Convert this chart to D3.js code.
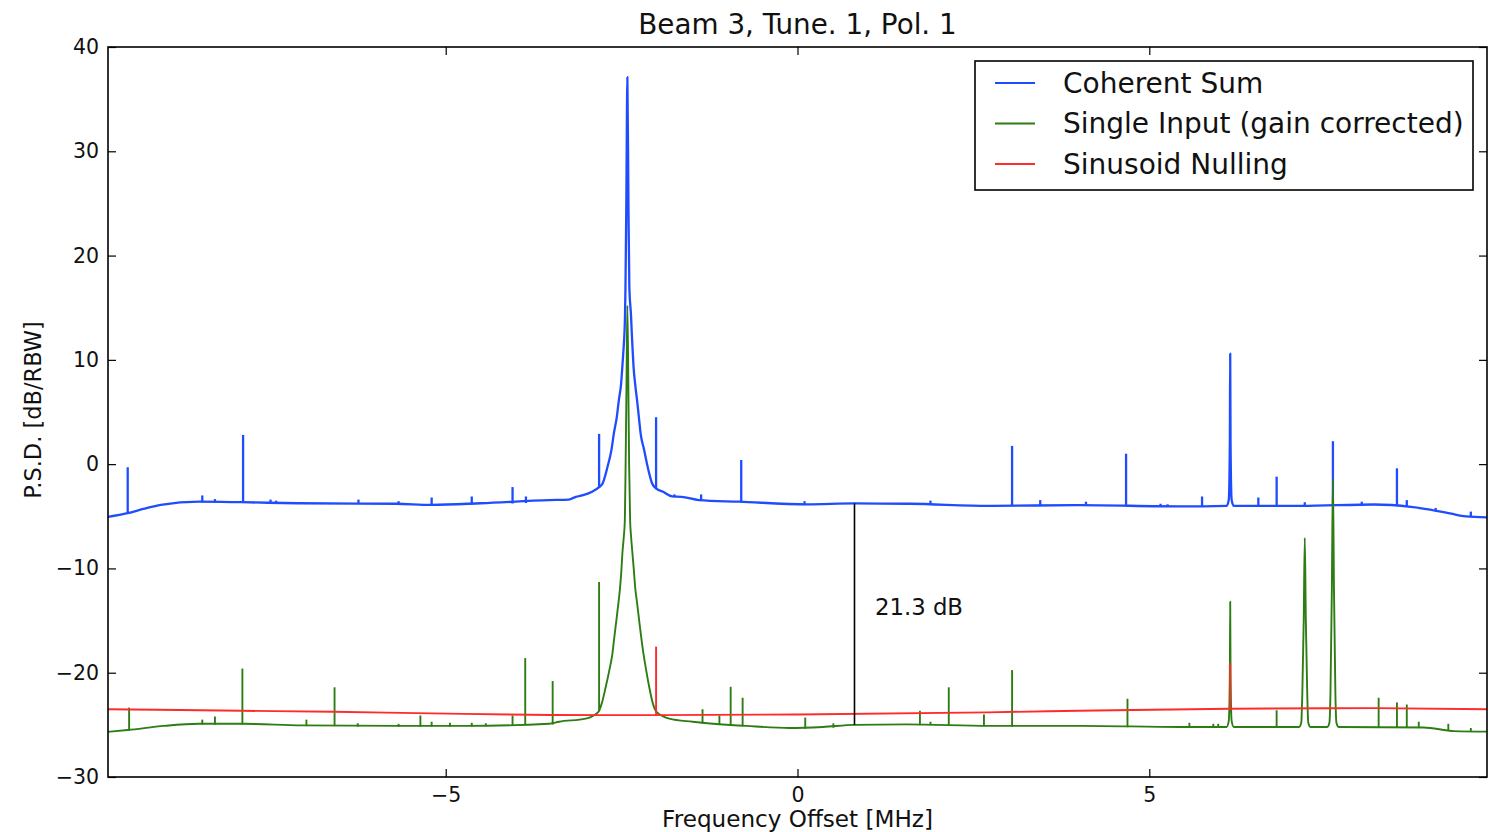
<!DOCTYPE html>
<meta charset="utf-8">
<style>
body { margin: 0; background: #fff; }
text { font-family: "DejaVu Sans", sans-serif; fill: #111; }
.trace { fill: none; stroke-linejoin: round; }
.frame { fill: none; stroke: #000; stroke-width: 1.6; }
.axis path.domain { display: none; }
.axis line { stroke: #000; stroke-width: 1.2; }
</style>
<body>
<svg class="chart js-chart"></svg>
<script src="https://d3js.org/d3.v7.min.js"></script>
<script>
"use strict";

var xTicks = [-5, 0, 5];
var yTicks = [-30, -20, -10, 0, 10, 20, 30, 40];

var seriesNames = ["Coherent Sum", "Single Input (gain corrected)", "Sinusoid Nulling"];
var seriesColors = ["#1f4cff", "#2e7d14", "#ff2b2b"];

// noise floor knots [MHz, dB]
var coherentFloor = [[-9.8, -5.05], [-9.52, -4.7], [-9.3, -4.3], [-9.05, -3.9], [-8.5, -3.6],
  [-7.9, -3.65], [-7.1, -3.75], [-5.7, -3.8], [-5.2, -3.9], [-4.5, -3.75], [-3.53, -3.45],
  [-1.4, -3.45], [-0.83, -3.6], [0.13, -3.85], [0.81, -3.77], [1.6, -3.8], [2.73, -4.0],
  [4.0, -3.93], [5.44, -4.05], [7.15, -4.0], [8.2, -3.87],
  [8.72, -4.1], [9.1, -4.5], [9.29, -4.75], [9.5, -5.0], [9.81, -5.1]];
// broad peaks: strong carrier near -2.4 MHz and the tone at 6.15 MHz [MHz, dB]
var coherentCarrier = [[-3.25, -3.4], [-3.15, -3.13], [-3.06, -3.0], [-2.92, -2.65], [-2.82, -2.2],
  [-2.77, -1.85], [-2.70, -0.25], [-2.645, 1.34], [-2.61, 2.95], [-2.568, 4.53], [-2.54, 6.1],
  [-2.507, 7.73], [-2.49, 9.3], [-2.474, 10.9], [-2.46, 12.5], [-2.452, 14.1], [-2.445, 17],
  [-2.433, 25], [-2.418, 37.1], [-2.403, 25], [-2.39, 17], [-2.365, 14.1], [-2.355, 12.5],
  [-2.343, 10.9], [-2.33, 9.3], [-2.308, 7.73], [-2.28, 6.1], [-2.255, 4.53], [-2.23, 2.95],
  [-2.179, 1.34], [-2.13, -0.25], [-2.066, -1.85], [-2.01, -2.33], [-1.91, -2.65],
  [-1.78, -3.1], [-1.65, -3.13]];
var coherentWidePeaks = [[6.1, -4.0], [6.13, -3.4], [6.145, 2], [6.15, 10.6], [6.155, 2],
  [6.17, -3.4], [6.2, -4.0]];
// narrow tones [MHz, floor dB, peak dB]
var coherentSpikes = [[-9.52, -4.7, -0.3], [-8.46, -3.6, -3.0], [-8.28, -3.6, -3.35],
  [-7.88, -3.65, 2.8], [-7.49, -3.7, -3.4], [-7.41, -3.7, -3.5], [-6.24, -3.75, -3.4],
  [-5.67, -3.8, -3.55], [-5.2, -3.9, -3.2], [-4.63, -3.8, -3.1], [-4.05, -3.7, -2.2],
  [-3.86, -3.65, -3.1], [-2.82, -2.2, 2.9], [-2.01, -2.33, 4.5], [-1.75, -3.1, -2.9],
  [-1.37, -3.45, -2.9], [-0.8, -3.6, 0.4], [0.1, -3.85, -3.55], [1.89, -3.8, -3.5],
  [3.05, -3.95, 1.75], [3.45, -3.95, -3.45], [4.1, -3.93, -3.6], [4.67, -3.95, 1.0],
  [5.16, -4.0, -3.8], [5.26, -4.0, -3.85], [5.75, -4.0, -3.1],
  [6.55, -4.0, -3.2], [6.81, -4.0, -1.2], [7.21, -4.0, -3.65], [7.61, -3.95, 2.2],
  [8.02, -3.9, -3.6], [8.52, -3.9, -0.4], [8.66, -4.0, -3.45], [9.07, -4.45, -4.2],
  [9.57, -5.0, -4.55]];

var singleFloor = [[-9.8, -25.67], [-9.52, -25.5], [-9.0, -25.1], [-8.5, -24.9], [-7.88, -24.9],
  [-7.05, -25.05], [-5.67, -25.1], [-4.72, -25.1], [-3.53, -24.9],
  [-1.35, -24.8], [-0.73, -25.1], [-0.11, -25.3], [0.36, -25.2], [0.81, -25.0], [1.55, -24.95],
  [2.73, -25.1], [4.02, -25.1], [5.44, -25.2], [6.8, -25.2],
  [8.9, -25.25], [9.33, -25.6], [9.81, -25.65]];
var singleCarrier = [[-3.39, -24.7], [-3.01, -24.4], [-2.83, -23.75], [-2.782, -22.94],
  [-2.725, -21.35], [-2.674, -19.75], [-2.63, -18.15], [-2.603, -16.56], [-2.574, -14.96],
  [-2.546, -13.36], [-2.521, -11.76], [-2.503, -10.16], [-2.489, -8.56], [-2.469, -6.97],
  [-2.454, -5.37], [-2.443, 0], [-2.43, 8], [-2.418, 15.2], [-2.405, 8], [-2.393, 0],
  [-2.379, -5.37], [-2.365, -6.97], [-2.346, -8.56], [-2.326, -10.16], [-2.308, -11.76],
  [-2.279, -13.36], [-2.251, -14.96], [-2.222, -16.56], [-2.19, -18.15], [-2.151, -19.75],
  [-2.108, -21.35], [-2.056, -22.94], [-2.004, -23.75], [-1.823, -24.4], [-1.49, -24.7]];
var singleWidePeaks = [[6.1, -25.2], [6.13, -24.6], [6.145, -20], [6.15, -13.2], [6.155, -20],
  [6.17, -24.6], [6.2, -25.2],
  [7.13, -25.2], [7.16, -24.8], [7.175, -22], [7.195, -15], [7.21, -7.07], [7.225, -15],
  [7.245, -22], [7.26, -24.8], [7.29, -25.2],
  [7.53, -25.2], [7.56, -24.8], [7.575, -22], [7.595, -12], [7.61, -1.4], [7.625, -12],
  [7.645, -22], [7.66, -24.8], [7.69, -25.2]];
var singleSpikes = [[-9.5, -25.5, -23.35], [-8.46, -24.9, -24.5], [-8.28, -24.9, -24.2],
  [-7.89, -24.9, -19.6], [-6.98, -25.05, -24.5], [-6.58, -25.05, -21.4], [-6.25, -25.1, -24.85],
  [-5.67, -25.1, -24.9], [-5.36, -25.1, -24.1], [-5.2, -25.1, -24.7], [-4.94, -25.1, -24.8],
  [-4.63, -25.1, -24.8], [-4.43, -25.05, -24.85], [-4.05, -25.0, -24.1], [-3.87, -24.95, -18.6],
  [-3.48, -24.9, -20.8], [-2.82, -23.6, -11.3], [-1.35, -24.8, -23.5], [-1.11, -24.9, -24.1],
  [-0.95, -24.95, -21.35], [-0.78, -25.0, -22.4], [0.11, -25.3, -24.3], [0.51, -25.2, -24.85],
  [1.74, -24.95, -23.65], [1.89, -24.95, -24.7], [2.15, -25.0, -21.4], [2.65, -25.05, -24.0],
  [3.05, -25.1, -19.75], [4.69, -25.15, -22.5], [5.57, -25.2, -24.8], [5.91, -25.2, -24.9],
  [5.98, -25.2, -24.9], [6.81, -25.2, -23.6], [8.26, -25.2, -22.4], [8.52, -25.2, -22.85],
  [8.66, -25.2, -23.05], [8.83, -25.2, -24.7], [9.25, -25.5, -24.9], [9.57, -25.6, -25.3]];

var nulledFloor = [[-9.8, -23.5], [-7.9, -23.65], [-6.6, -23.75], [-5.2, -23.9], [-3.5, -24.05],
  [-2.0, -24.07], [0.0, -24.0], [2.7, -23.8], [4.0, -23.65], [6.15, -23.45], [8.2, -23.4],
  [9.81, -23.5]];
var nulledWidePeaks = [];
var nulledSpikes = [[-2.01, -24.07, -17.5], [6.15, -23.45, -19.05]];

// measured gap: [MHz, lower dB, upper dB]
var gapMarker = [0.81, -25.0, -3.77];
var gapLabel = "21.3 dB";
var gapLabelAt = [1.1, -14.5];

var chartTitle = "Beam 3, Tune. 1, Pol. 1";
var xLabel = "Frequency Offset [MHz]";
var yLabel = "P.S.D. [dB/RBW]";

var width = 1490, height = 832;
var margin = {top: 47, right: 3, bottom: 55, left: 108};
var w = width - margin.left - margin.right;
var h = height - margin.top - margin.bottom;

var x = d3.scaleLinear().domain([-9.8, 9.8]).range([0, w]);
var y = d3.scaleLinear().domain([-30, 40]).range([h, 0]);

var svg = d3.select('.js-chart')
  .attr('width', width)
  .attr('height', height);

var g = svg.append('g')
  .attr('transform', 'translate(' + margin.left + ',' + margin.top + ')');

function profile (floor, carrier, peaks) {
  return floor.concat(carrier, peaks)
    .map(function (p) { return {f: p[0], v: p[1]}; })
    .sort(function (a, b) { return a.f - b.f; });
}

var series = [
  {profile: profile(coherentFloor, coherentCarrier, coherentWidePeaks), spikes: coherentSpikes, lw: 2.3},
  {profile: profile(singleFloor, singleCarrier, singleWidePeaks), spikes: singleSpikes, lw: 1.9},
  {profile: profile(nulledFloor, [], nulledWidePeaks), spikes: nulledSpikes, lw: 1.9}
];

var line = d3.line()
  .curve(d3.curveMonotoneX)
  .x(function (d) { return x(d.f); })
  .y(function (d) { return y(d.v); });

g.append('clipPath').attr('id', 'clip')
  .append('rect').attr('width', w).attr('height', h);

var plot = g.append('g').attr('clip-path', 'url(#clip)');

var groups = plot.selectAll('g.series')
  .data(series)
  .enter().append('g')
    .attr('class', 'series')
    .style('stroke', function (d, i) { return seriesColors[i]; })
    .style('stroke-width', function (d) { return d.lw; });

groups.append('path')
  .attr('class', 'trace')
  .attr('d', function (d) { return line(d.profile); });

groups.selectAll('line.spike')
  .data(function (d) { return d.spikes; })
  .enter().append('line')
    .attr('class', 'spike')
    .attr('x1', function (s) { return x(s[0]); })
    .attr('x2', function (s) { return x(s[0]); })
    .attr('y1', function (s) { return y(s[1]) + 0.8; })
    .attr('y2', function (s) { return y(s[2]); });

// gap marker
g.append('line')
  .attr('x1', x(gapMarker[0])).attr('x2', x(gapMarker[0]))
  .attr('y1', y(gapMarker[1])).attr('y2', y(gapMarker[2]))
  .style('stroke', '#000').style('stroke-width', 1.6);
g.append('text')
  .attr('x', x(gapLabelAt[0]))
  .attr('y', y(gapLabelAt[1]))
  .style('font-size', '22.8px')
  .text(gapLabel);

// axes, ticks pointing inward on all four sides
g.append('g').attr('class', 'axis')
  .attr('transform', 'translate(0,' + h + ')')
  .call(d3.axisBottom(x).tickValues(xTicks).tickSizeInner(-8).tickSizeOuter(0).tickPadding(10))
  .selectAll('text').style('font-size', '20.5px').style('font-family', '"DejaVu Sans", sans-serif').attr('fill', '#111');
g.append('g').attr('class', 'axis')
  .call(d3.axisTop(x).tickValues(xTicks).tickSizeInner(-8).tickSizeOuter(0).tickFormat(''));
g.append('g').attr('class', 'axis')
  .call(d3.axisLeft(y).tickValues(yTicks).tickSizeInner(-8).tickSizeOuter(0).tickPadding(9))
  .selectAll('text').style('font-size', '20.5px').style('font-family', '"DejaVu Sans", sans-serif').attr('fill', '#111');
g.append('g').attr('class', 'axis')
  .attr('transform', 'translate(' + w + ',0)')
  .call(d3.axisRight(y).tickValues(yTicks).tickSizeInner(-8).tickSizeOuter(0).tickFormat(''));

g.append('rect').attr('class', 'frame').attr('width', w).attr('height', h);

// titles
svg.append('text')
  .attr('x', margin.left + w / 2).attr('y', 34)
  .attr('text-anchor', 'middle')
  .style('font-size', '27.8px')
  .text(chartTitle);
svg.append('text')
  .attr('x', margin.left + w / 2).attr('y', 827)
  .attr('text-anchor', 'middle')
  .style('font-size', '23.1px')
  .text(xLabel);
svg.append('text')
  .attr('transform', 'translate(41,' + (margin.top + 363) + ') rotate(-90)')
  .attr('text-anchor', 'middle')
  .style('font-size', '22.5px')
  .text(yLabel);

// legend
var legend = g.append('g').attr('transform', 'translate(' + (w - 512) + ',14)');
legend.append('rect')
  .attr('width', 498).attr('height', 129)
  .style('fill', '#fff').style('stroke', '#000').style('stroke-width', 1.6);
var rows = legend.selectAll('g.row')
  .data(seriesNames)
  .enter().append('g')
    .attr('class', 'row')
    .attr('transform', function (d, i) { return 'translate(0,' + (22 + i * 40.5) + ')'; });
rows.append('line')
  .attr('x1', 20).attr('x2', 60)
  .style('stroke', function (d, i) { return seriesColors[i]; })
  .style('stroke-width', 2);
rows.append('text')
  .attr('x', 88).attr('dy', '0.35em')
  .style('font-size', '28px')
  .text(function (d) { return d; });
</script>
</body>
